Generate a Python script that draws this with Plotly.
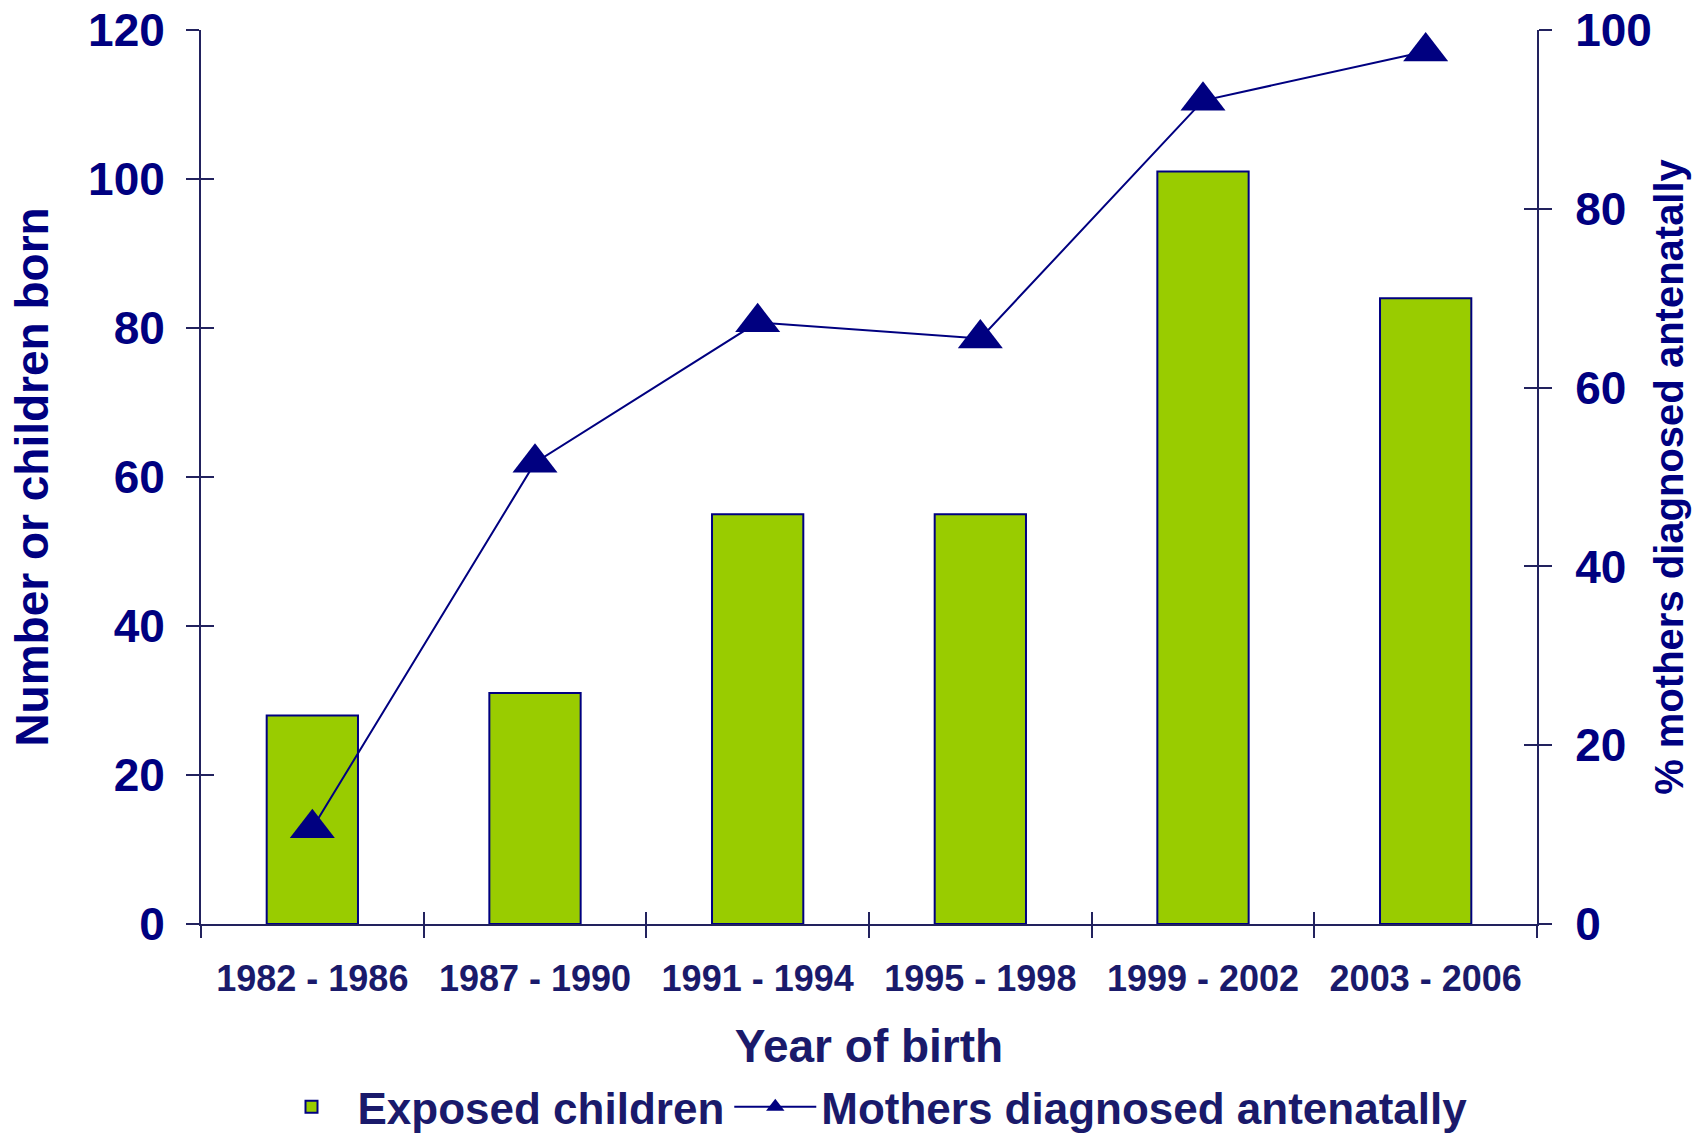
import plotly.graph_objects as go

categories = ["1982 - 1986", "1987 - 1990", "1991 - 1994", "1995 - 1998", "1999 - 2002", "2003 - 2006"]
exposed_children = [28, 31, 55, 55, 101, 84]
pct_mothers_diagnosed = [10.7, 51.6, 67.3, 65.5, 92.1, 97.6]
left_ticks = [0, 20, 40, 60, 80, 100, 120]
right_ticks = [0, 20, 40, 60, 80, 100]

NAVY = "#000080"
DARK = "#1A1A6B"
AXIS = "#22225E"
GREEN = "#99CC00"
FONT = "Liberation Sans"

n = len(categories)
xrange_ = [-0.5, n - 0.5]
boundaries = [i - 0.5 for i in range(n + 1)]

fig = go.Figure()
fig.add_trace(go.Bar(
    x=categories, y=exposed_children, name="Exposed children",
    marker=dict(color=GREEN, line=dict(color=NAVY, width=2)),
    xaxis="x", yaxis="y",
))
fig.add_trace(go.Scatter(
    x=categories, y=pct_mothers_diagnosed, name="Mothers diagnosed antenatally",
    mode="lines+markers",
    line=dict(color=NAVY, width=2),
    marker=dict(symbol="triangle-up", size=39, color=NAVY),
    xaxis="x", yaxis="y2",
))
# helper traces so the inner-tick axes are drawn
fig.add_trace(go.Scatter(x=[None], y=[None], xaxis="x3", yaxis="y", showlegend=False, hoverinfo="skip"))
fig.add_trace(go.Scatter(x=[None], y=[None], xaxis="x", yaxis="y3", showlegend=False, hoverinfo="skip"))
fig.add_trace(go.Scatter(x=[None], y=[None], xaxis="x", yaxis="y4", showlegend=False, hoverinfo="skip"))

fig.update_layout(
    width=1706, height=1137, autosize=False,
    margin=dict(l=201, r=169, t=30, b=213, autoexpand=False),
    plot_bgcolor="white", paper_bgcolor="white",
    bargap=0.59,
    font=dict(family=FONT, color=NAVY, weight="bold"),
    showlegend=True,
    legend=dict(
        orientation="h", x=0.5, xanchor="center", y=-0.205, yanchor="middle",
        font=dict(family=FONT, size=44, color=DARK, weight="bold"),
        itemwidth=82, traceorder="normal",
    ),
    xaxis=dict(
        type="category", range=xrange_, automargin=False,
        showline=True, linecolor=AXIS, linewidth=2,
        ticks="outside", tickson="boundaries", ticklen=12, tickwidth=2, tickcolor=AXIS,
        showgrid=False, zeroline=False,
        ticklabelstandoff=22,
        tickfont=dict(family=FONT, size=36, color=DARK, weight="bold"),
        title=dict(text="Year of birth", standoff=32,
                   font=dict(family=FONT, size=46, color=DARK, weight="bold")),
    ),
    xaxis3=dict(
        overlaying="x", anchor="y", range=xrange_, tickvals=boundaries,
        ticks="inside", ticklen=12, tickwidth=2, tickcolor=AXIS,
        showticklabels=False, showline=False, showgrid=False, zeroline=False,
    ),
    yaxis=dict(
        range=[0, 120], tickvals=left_ticks, automargin=False,
        showline=True, linecolor=AXIS, linewidth=2,
        ticks="outside", ticklen=13, tickwidth=2, tickcolor=AXIS,
        showgrid=False, zeroline=False,
        ticklabelstandoff=12, ticklabeloverflow="allow",
        tickfont=dict(family=FONT, size=46, color=NAVY, weight="bold"),
        title=dict(text="Number or children born", standoff=25,
                   font=dict(family=FONT, size=46, color=NAVY, weight="bold")),
    ),
    yaxis2=dict(
        overlaying="y", side="right", anchor="x", automargin=False,
        range=[0, 100], tickvals=right_ticks,
        showline=True, linecolor=AXIS, linewidth=2,
        ticks="outside", ticklen=13, tickwidth=2, tickcolor=AXIS,
        showgrid=False, zeroline=False,
        ticklabelstandoff=14, ticklabeloverflow="allow",
        tickfont=dict(family=FONT, size=46, color=NAVY, weight="bold"),
        title=dict(text="% mothers diagnosed antenatally", standoff=4,
                   font=dict(family=FONT, size=40, color=NAVY, weight="bold")),
    ),
    yaxis3=dict(
        overlaying="y", side="left", anchor="x",
        range=[0, 120], tickvals=left_ticks,
        ticks="inside", ticklen=13, tickwidth=2, tickcolor=AXIS,
        showticklabels=False, showline=False, showgrid=False, zeroline=False,
    ),
    yaxis4=dict(
        overlaying="y", side="right", anchor="x",
        range=[0, 100], tickvals=right_ticks,
        ticks="inside", ticklen=13, tickwidth=2, tickcolor=AXIS,
        showticklabels=False, showline=False, showgrid=False, zeroline=False,
    ),
)

fig.write_html(
    "out.html",
    config={"displayModeBar": False},
    post_script="document.body.style.margin='0px';",
)
